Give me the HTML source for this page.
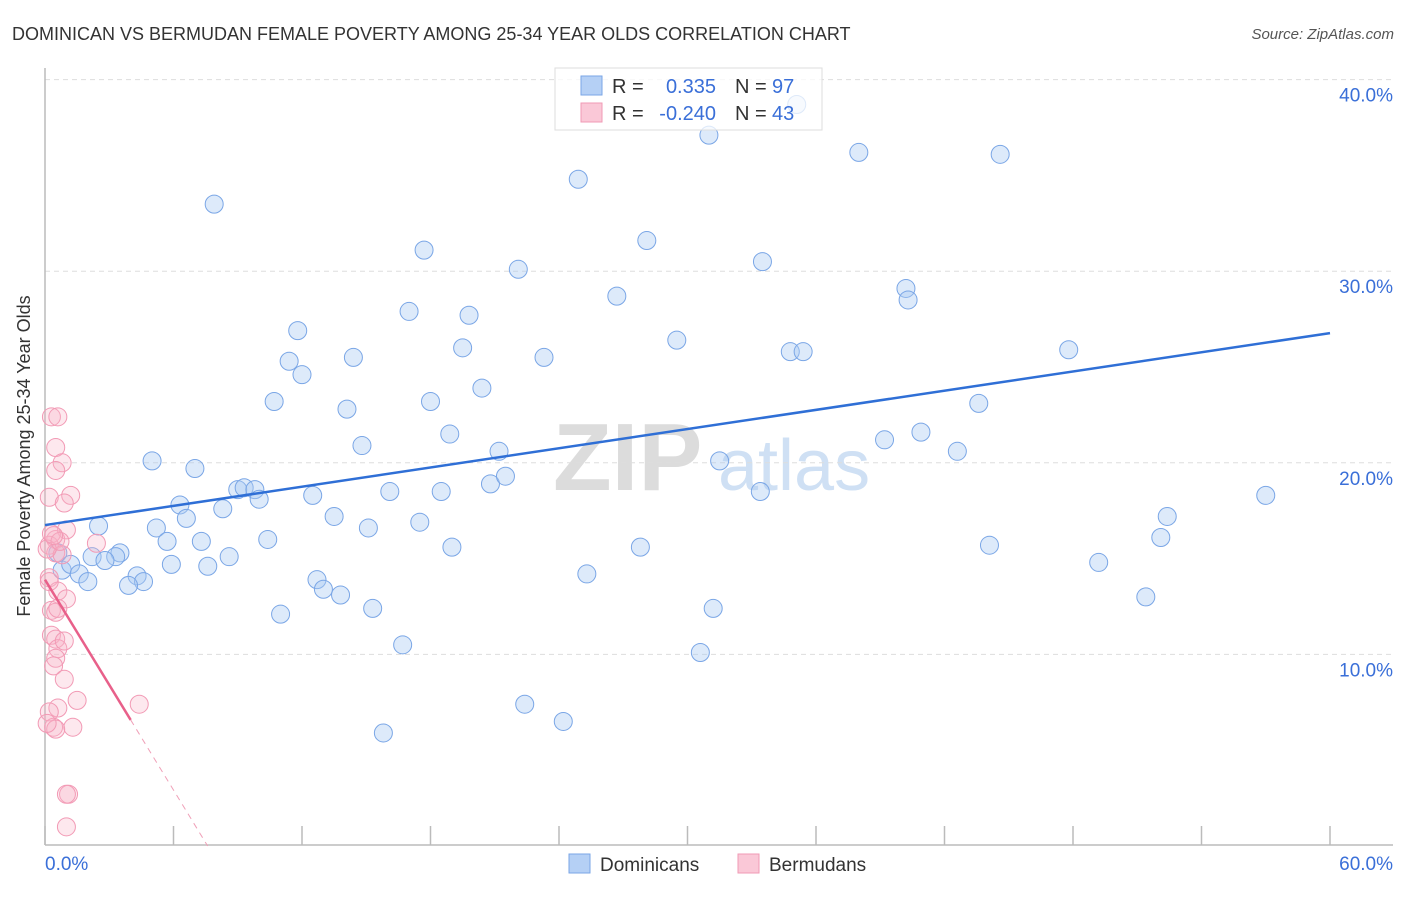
<!DOCTYPE html>
<html><head><meta charset="utf-8">
<style>
body{margin:0;background:#fff;font-family:"Liberation Sans",sans-serif;}
svg text{font-family:"Liberation Sans",sans-serif;}
</style></head>
<body>
<svg id="chart" width="1406" height="892" viewBox="0 0 1406 892" xmlns="http://www.w3.org/2000/svg">
<text x="12" y="40" font-size="18" fill="#333">DOMINICAN VS BERMUDAN FEMALE POVERTY AMONG 25-34 YEAR OLDS CORRELATION CHART</text>
<text x="1394" y="39" font-size="15" fill="#555" font-style="italic" text-anchor="end">Source: ZipAtlas.com</text>
<g>
<text x="553" y="490" font-size="96" fill="#dcdcdc" font-family="Liberation Serif" font-weight="bold">ZIP</text>
<text x="718" y="490" font-size="72" fill="#cfe0f4">atlas</text>
</g>
<g id="grid"></g>
<g id="axes"></g>
<g id="pts"></g>
<g id="trend"></g>
<text x="30" y="456" font-size="18" fill="#333" text-anchor="middle" transform="rotate(-90 30 456)">Female Poverty Among 25-34 Year Olds</text>
<g>
<rect x="555" y="68" width="267" height="62" fill="rgba(255,255,255,0.75)" stroke="#ddd"/>
<rect x="581" y="76" width="21" height="19" fill="#b5d0f5" stroke="#7aa6e6"/>
<rect x="581" y="103" width="21" height="19" fill="#fac8d7" stroke="#f09ab4"/>
<text x="612" y="93" font-size="20" fill="#333">R =</text>
<text x="716" y="93" font-size="20" fill="#3a6fd8" text-anchor="end">0.335</text>
<text x="735" y="93" font-size="20" fill="#333">N =</text>
<text x="772" y="93" font-size="20" fill="#3a6fd8">97</text>
<text x="612" y="120" font-size="20" fill="#333">R =</text>
<text x="716" y="120" font-size="20" fill="#3a6fd8" text-anchor="end">-0.240</text>
<text x="735" y="120" font-size="20" fill="#333">N =</text>
<text x="772" y="120" font-size="20" fill="#3a6fd8">43</text>
</g>
<g>
<rect x="569" y="854" width="21" height="19" fill="#b5d0f5" stroke="#7aa6e6"/>
<text x="600" y="871" font-size="19" fill="#333">Dominicans</text>
<rect x="738" y="854" width="21" height="19" fill="#fac8d7" stroke="#f09ab4"/>
<text x="769" y="871" font-size="19" fill="#333">Bermudans</text>
</g>
</svg>
<script>
const yTicks=[10,20,30,40];
const yTickLabels=["10.0%","20.0%","30.0%","40.0%"];
const xTicks=[0,6,12,18,24,30,36,42,48,54,60];
const domX=[7.9,17.7,24.9,31.0,35.1,38.0,44.6,28.1,22.1,33.5,26.7,40.2,40.3,11.8,17.0,19.8,11.4,12.0,14.4,19.5,23.3,29.5,34.8,35.4,47.8,10.7,14.1,18.0,20.4,43.6,14.8,18.9,21.2,39.2,40.9,42.6,5.0,7.0,31.5,9.0,9.3,9.8,10.0,12.5,16.1,18.5,20.8,21.5,33.4,57.0,6.3,8.3,6.6,13.5,17.5,15.1,52.4,2.5,5.2,5.7,7.3,10.4,52.1,44.1,19.0,27.8,0.6,2.2,3.5,3.3,2.8,8.6,0.8,1.2,5.9,7.6,49.2,1.6,2.0,4.3,4.6,3.9,12.7,13.0,13.8,25.3,51.4,11.0,15.3,31.2,16.7,30.6,22.4,24.2,15.8];
const domY=[33.5,31.1,34.8,37.1,38.7,36.2,36.1,31.6,30.1,30.5,28.7,29.1,28.5,26.9,27.9,27.7,25.3,24.6,25.5,26.0,25.5,26.4,25.8,25.8,25.9,23.2,22.8,23.2,23.9,23.1,20.9,21.5,20.6,21.2,21.6,20.6,20.1,19.7,20.1,18.6,18.7,18.6,18.1,18.3,18.5,18.5,18.9,19.3,18.5,18.3,17.8,17.6,17.1,17.2,16.9,16.6,17.2,16.7,16.6,15.9,15.9,16.0,16.1,15.7,15.6,15.6,15.3,15.1,15.3,15.1,14.9,15.1,14.4,14.7,14.7,14.6,14.8,14.2,13.8,14.1,13.8,13.6,13.9,13.4,13.1,14.2,13.0,12.1,12.4,12.4,10.5,10.1,7.4,6.5,5.9];
const berX=[0.3,0.6,0.5,0.8,0.5,0.2,1.2,0.9,1.0,0.5,0.2,2.4,0.5,0.8,0.2,0.6,1.0,0.3,0.5,0.3,0.5,0.6,0.5,0.4,0.9,1.5,0.6,0.2,4.4,0.4,0.5,1.3,1.1,1.0,1.0,0.1,0.3,0.7,0.2,0.4,0.9,0.6,0.1];
const berY=[22.4,22.4,20.8,20.0,19.6,18.2,18.3,17.9,16.5,16.0,15.7,15.8,15.3,15.2,14.0,13.3,12.9,12.3,12.2,11.0,10.8,10.3,9.8,9.4,8.7,7.6,7.2,7.0,7.4,6.2,6.1,6.2,2.7,2.7,1.0,15.5,16.3,15.9,13.8,16.2,10.7,12.4,6.4];
const domTrend=[16.75,26.77];
const berTrend=[13.9,-1.83];
const X=v=>45+v/60*1285;
const Y=v=>846-v/10*191.6;
const NS="http://www.w3.org/2000/svg";
function mk(tag,attrs,parent){const e=document.createElementNS(NS,tag);for(const k in attrs)e.setAttribute(k,attrs[k]);document.getElementById(parent).appendChild(e);return e;}
yTicks.forEach((t,i)=>{
 const l=mk('line',{x1:45,x2:1393,y1:Y(t),y2:Y(t),stroke:'#ddd','stroke-dasharray':'5,4'},'grid');
 
 
 const tx=mk('text',{x:1393,y:Y(t)+22,'font-size':19,fill:'#3a6fd8','text-anchor':'end'},'grid');
 tx.textContent=yTickLabels[i];
 
 
});
const ax=mk('line',{x1:45,x2:45,y1:68,y2:845,stroke:'#bbb','stroke-width':1.5},'axes');


const bx=mk('line',{x1:45,x2:1393,y1:845,y2:845,stroke:'#bbb','stroke-width':1.5},'axes');


xTicks.forEach(t=>{
 const tk=mk('line',{x1:X(t),x2:X(t),y1:826,y2:845,stroke:'#bbb','stroke-width':1.5},'axes');
 
 
});
const xl0=mk('text',{x:45,y:870,'font-size':19,fill:'#3a6fd8'},'axes');xl0.textContent='0.0%';


const xl1=mk('text',{x:1393,y:870,'font-size':19,fill:'#3a6fd8','text-anchor':'end'},'axes');xl1.textContent='60.0%';


domX.forEach((v,i)=>{
 const c=mk('circle',{cx:X(v),cy:Y(domY[i]),r:9,fill:'rgba(170,202,242,0.4)',stroke:'#7aa6e6','stroke-width':1},'pts');
 
 
});
berX.forEach((v,i)=>{
 const c=mk('circle',{cx:X(v),cy:Y(berY[i]),r:9,fill:'rgba(248,180,200,0.3)',stroke:'#f29ab5','stroke-width':1},'pts');
 
 
});
const bl=mk('line',{x1:X(0),y1:Y(domTrend[0]),x2:X(60),y2:Y(domTrend[1]),stroke:'#2f6fd6','stroke-width':2.5},'trend');


const pe=4.0, pz=-berTrend[0]/berTrend[1];
const pl=mk('line',{x1:X(0),y1:Y(berTrend[0]),x2:X(pe),y2:Y(berTrend[0]+berTrend[1]*pe),stroke:'#e8608a','stroke-width':2.5},'trend');


const pd=mk('line',{x1:X(pe),y1:Y(berTrend[0]+berTrend[1]*pe),x2:X(pz),y2:Y(0),stroke:'#f0a0b8','stroke-width':1,'stroke-dasharray':'6,5'},'trend');


</script>
</body></html>
